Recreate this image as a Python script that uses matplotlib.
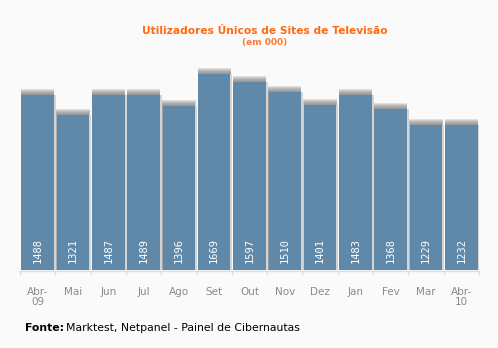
import matplotlib.pyplot as plt
import numpy as np

months = ["Abr-\n09", "Mai", "Jun", "Jul", "Ago", "Set", "Out", "Nov",
          "Dez", "Jan", "Fev", "Mar", "Abr-\n10"]
users = [1488, 1321, 1487, 1489, 1396, 1669, 1597, 1510, 1401, 1483, 1368, 1229, 1232]

bg = "#fafafa"
bar_color = "#6088a9"

fig = plt.figure(figsize=(4.98, 3.48), dpi=100, facecolor=bg)
ax = fig.add_axes([20 / 498, 78 / 348, 459 / 498, 224 / 348], facecolor=bg)

x = np.arange(len(users))
ymax = 1903
ax.set_xlim(-0.5, len(users) - 0.5)
ax.set_ylim(0, ymax)

# pixel -> data unit helpers for the soft shadows
px_x = len(users) / 459
px_y = ymax / 224
w = 0.92

# soft grey glow on top of each bar (stacked layers, darkest near the bar)
for k in range(6):
    h = (6 - k) * px_y
    ax.bar(x, np.array(users) + h, width=w + (6 - k) * 0.15 * px_x,
           color="#7a7a7a", alpha=0.2, linewidth=0, zorder=1)
# light shadow on the right side
ax.bar(x + 2 * px_x, users, width=w, color="#d4d4d4", linewidth=0, zorder=1.5)
ax.bar(x, users, width=w, color=bar_color, linewidth=0, zorder=2)

for xi, v in zip(x, users):
    ax.text(xi, 7 * px_y, str(v), rotation=90, ha="center", va="bottom",
            color="white", fontsize=7.5, family="DejaVu Sans Mono", zorder=3)

# baseline with ticks between categories
ax.axhline(-1 * px_y, color="#dddddd", lw=1, clip_on=False, zorder=0)
for b in np.arange(-0.5, len(users), 1.0):
    ax.plot([b, b], [-1 * px_y, -4 * px_y], color="#dddddd", lw=1, clip_on=False)

ax.set_xticks(x)
ax.set_xticklabels(months, color="#8a8a8a", fontsize=7.5, linespacing=1.1)
ax.tick_params(axis="x", length=0, pad=12)
ax.set_yticks([])
for s in ax.spines.values():
    s.set_visible(False)

fig.text(265 / 498, 1 - 31 / 348, "Utilizadores Únicos de Sites de Televisão",
         ha="center", va="center", color="#ff6a10", fontsize=7.7, fontweight="bold")
fig.text(265 / 498, 1 - 43 / 348, "(em 000)", ha="center", va="center",
         color="#ff7a30", fontsize=6.5, fontweight="bold")

fig.text(25 / 498, 1 - 328 / 348, "Fonte:", ha="left", va="center",
         color="black", fontsize=7.8, fontweight="bold")
fig.text(66 / 498, 1 - 328 / 348, "Marktest, Netpanel - Painel de Cibernautas",
         ha="left", va="center", color="black", fontsize=7.8)

fig.savefig("out.png", dpi=100, facecolor=bg)
